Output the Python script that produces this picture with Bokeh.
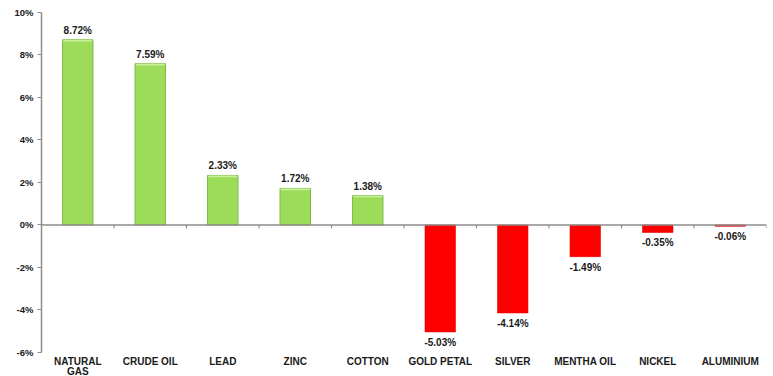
from bokeh.plotting import figure
from bokeh.models import (ColumnDataSource, Range1d, LinearAxis, FixedTicker,
                          CustomJSTickFormatter, Span)
from bokeh.core.properties import value
from bokeh.embed import file_html
from bokeh.resources import INLINE

# Weekly commodity returns (%)
commodities = ["NATURAL\nGAS", "CRUDE OIL", "LEAD", "ZINC", "COTTON",
               "GOLD PETAL", "SILVER", "MENTHA OIL", "NICKEL", "ALUMINIUM"]
returns = [8.72, 7.59, 2.33, 1.72, 1.38, -5.03, -4.14, -1.49, -0.35, -0.06]
y_ticks = [-6, -4, -2, 0, 2, 4, 6, 8, 10]

FONT = "Liberation Sans"
AXIS_GREY = "#8c8c8c"
TEXT = "#1a1a1a"
n = len(commodities)
centers = [i + 0.5 for i in range(n)]
boundaries = list(range(1, n + 1))
y_lo, y_hi = y_ticks[0], y_ticks[-1]

pos = [i for i, v in enumerate(returns) if v >= 0]
neg = [i for i, v in enumerate(returns) if v < 0]

pos_src = ColumnDataSource(dict(
    x=[centers[i] for i in pos],
    top=[returns[i] for i in pos],
    band=[returns[i] - 0.08 for i in pos],
    label=["%.2f%%" % returns[i] for i in pos],
))
neg_src = ColumnDataSource(dict(
    x=[centers[i] for i in neg],
    top=[returns[i] for i in neg],
    label=["%.2f%%" % returns[i] for i in neg],
))
cat_src = ColumnDataSource(dict(x=centers, y=[y_lo] * n, name=commodities))

# The plot area runs down to the window edge so the category names
# (drawn as glyphs) sit inside it, below the -6% level.
p = figure(width=773, height=376, output_backend="svg", toolbar_location=None,
           x_range=Range1d(0, n), y_range=Range1d(-7.13, y_hi),
           min_border_left=41, min_border_right=7, min_border_top=12,
           min_border_bottom=0, x_axis_location=None, y_axis_location=None)
p.outline_line_color = None
p.xgrid.visible = False
p.ygrid.visible = False
p.background_fill_color = "white"
p.border_fill_color = "white"

# Bars
p.vbar(x="x", top="top", bottom=0, width=0.42, source=pos_src,
       fill_color="#9ddc58", line_color="#7fbb45", line_width=1)
p.vbar(x="x", top="top", bottom="band", width=0.40, source=pos_src,
       fill_color="#c8f09a", line_color=None)
p.vbar(x="x", top="top", bottom=0, width=0.42, source=neg_src,
       fill_color="#ff0000", line_color="#e00000", line_width=0.6)

# Zero line with short ticks at the category boundaries
p.add_layout(Span(location=0, dimension="width", line_color=AXIS_GREY,
                  line_width=1.5))
p.segment(x0=boundaries, y0=[0] * n, x1=boundaries, y1=[-0.15] * n,
          line_color=AXIS_GREY, line_width=1.2)

# Value labels
p.text(x="x", y="top", text="label", source=pos_src, y_offset=-4,
       text_align="center", text_baseline="bottom",
       text_font=value(FONT), text_font_style="bold",
       text_font_size="10px", text_color=TEXT)
p.text(x="x", y="top", text="label", source=neg_src, y_offset=5,
       text_align="center", text_baseline="top",
       text_font=value(FONT), text_font_style="bold",
       text_font_size="10px", text_color=TEXT)

# Category names
p.text(x="x", y="y", text="name", source=cat_src, y_offset=4,
       text_align="center", text_baseline="top",
       text_font=value(FONT), text_font_style="bold",
       text_font_size="10px", text_color=TEXT, text_line_height=0.9)

# Y axis, limited to the tick span
yax = LinearAxis(ticker=FixedTicker(ticks=y_ticks), bounds=(y_lo, y_hi),
                 formatter=CustomJSTickFormatter(code="return tick + '%';"))
yax.axis_line_color = AXIS_GREY
yax.axis_line_width = 1.5
yax.major_tick_line_color = AXIS_GREY
yax.major_tick_out = 4
yax.major_tick_in = 0
yax.minor_tick_line_color = None
yax.major_label_text_font = FONT
yax.major_label_text_font_style = "bold"
yax.major_label_text_font_size = "9.5px"
yax.major_label_text_color = TEXT
yax.major_label_standoff = 4
p.add_layout(yax, "left")

open("out.html", "w").write(file_html(p, INLINE))
